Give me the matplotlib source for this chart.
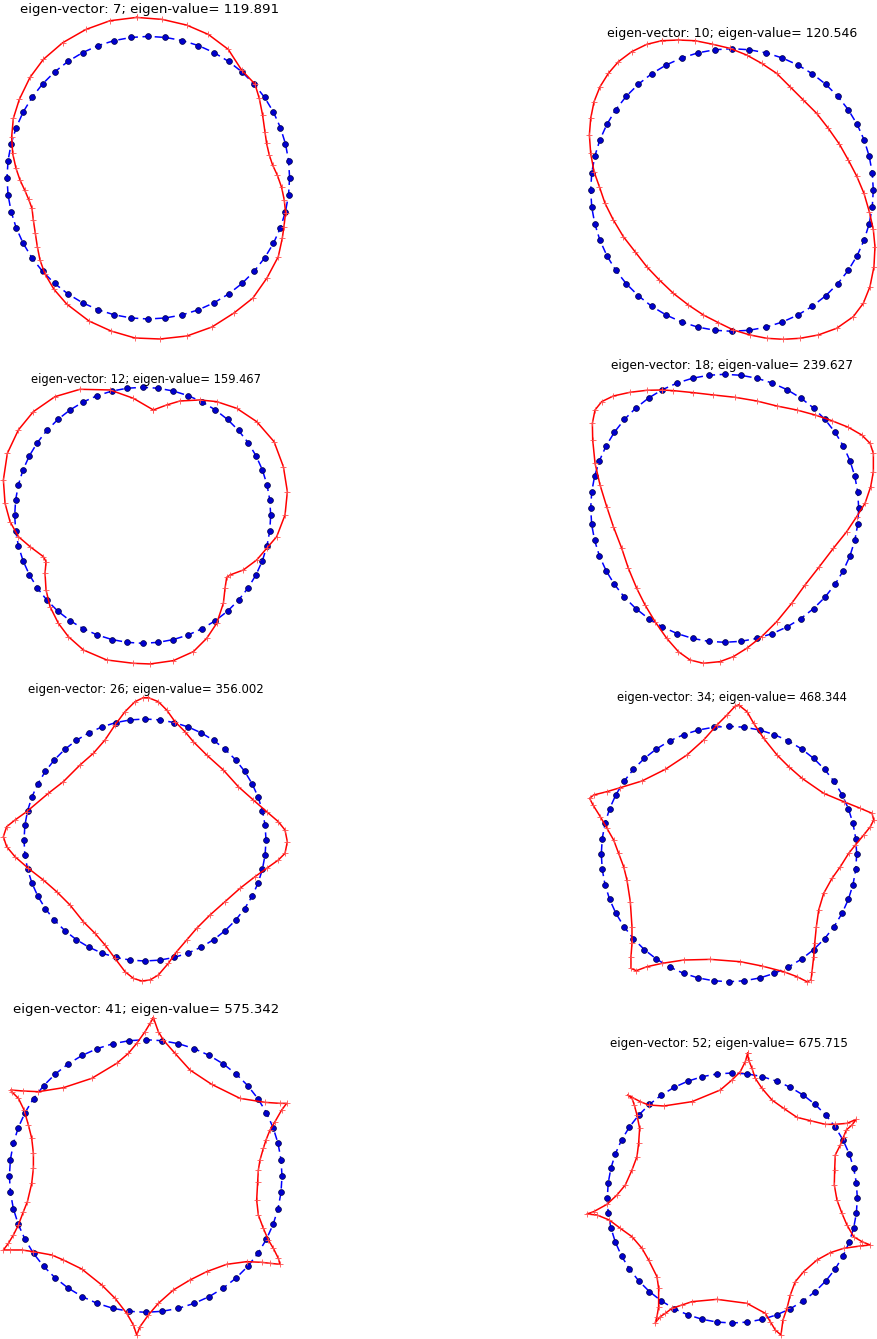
import numpy as np
import matplotlib
matplotlib.use("Agg")
from matplotlib import pyplot as plt

# eigen-vector index and eigen-value of each panel
eig_vectors = [7, 10, 12, 18, 26, 34, 41, 52]
eig_values = [119.891, 120.546, 159.467, 239.627, 356.002, 468.344, 575.342, 675.715]

# number of nodes on the undeformed boundary (blue circle)
n_nodes = 52

# deformed boundaries (red).
# units are tracing pixels; *_ref is (centre x, centre y, radius) of the blue circle in the same units
mode_7_x = [410, 487, 560, 625, 685, 725, 765, 778, 788, 795, 800, 808, 818, 832, 845, 853, 857, 852, 847, 835,
            801, 759, 702, 636, 561, 480, 405, 333, 267, 200, 162, 135, 120, 112, 106, 100, 96, 86, 74, 60,
            48, 38, 35, 40, 58, 90, 130, 188, 258, 330, 410]
mode_7_y = [52, 58, 75, 103, 148, 210, 252, 295, 345, 395, 430, 465, 495, 525, 562, 600, 638, 680, 715, 770,
            834, 894, 939, 981, 1008, 1017, 1014, 993, 963, 912, 868, 822, 780, 740, 700, 660, 625, 598, 570, 540,
            505, 460, 410, 355, 298, 232, 178, 128, 88, 62, 52]
mode_7_ref = (445, 533, 424)

mode_10_x = [275, 325, 375, 425, 480, 530, 575, 620, 660, 700, 740, 775, 808, 835, 860, 882, 898, 910, 915, 912,
             900, 880, 850, 800, 745, 690, 640, 590, 540, 490, 445, 400, 355, 310, 268, 230, 195, 160, 130, 105,
             88, 72, 62, 58, 62, 72, 90, 115, 145, 185, 230, 275]
mode_10_y = [62, 60, 62, 72, 85, 105, 130, 160, 200, 240, 280, 325, 372, 420, 468, 520, 575, 628, 680, 740,
             800, 850, 890, 925, 945, 955, 958, 955, 945, 930, 908, 885, 855, 820, 780, 740, 695, 650, 600, 550,
             500, 455, 400, 345, 295, 245, 200, 160, 125, 95, 73, 62]
mode_10_ref = (486, 510, 424)

mode_12_x = [460, 500, 540, 600, 650, 710, 770, 822, 850, 862, 855, 830, 800, 770, 730, 690, 680, 675, 670, 650,
             620, 580, 520, 450, 400, 320, 250, 205, 175, 150, 138, 135, 138, 130, 90, 55, 30, 15, 10, 22,
             55, 100, 165, 240, 330, 400, 460]
mode_12_y = [210, 195, 183, 180, 185, 205, 245, 305, 380, 455, 525, 590, 625, 660, 690, 705, 712, 745, 790, 850,
             895, 935, 962, 972, 970, 960, 930, 890, 850, 800, 750, 700, 665, 650, 620, 590, 545, 490, 420, 340,
             270, 215, 170, 148, 150, 175, 210]
mode_12_ref = (428, 526, 384)

mode_18_x = [245, 280, 340, 400, 465, 530, 590, 650, 705, 755, 805, 845, 870, 880, 880, 872, 855, 830, 800, 760,
             718, 675, 635, 590, 545, 500, 460, 420, 370, 330, 295, 260, 225, 195, 170, 145, 125, 100, 80, 60,
             45, 38, 37, 45, 65, 100, 150, 200, 245]
mode_18_y = [150, 152, 158, 165, 172, 183, 198, 210, 225, 242, 262, 285, 310, 340, 395, 440, 490, 530, 575, 625,
             680, 735, 790, 845, 890, 925, 950, 965, 970, 960, 935, 895, 845, 795, 745, 685, 625, 560, 500, 435,
             370, 300, 250, 210, 185, 168, 157, 151, 150]
mode_18_ref = (434, 505, 402)

mode_26_x = [445, 475, 500, 525, 555, 580, 620, 670, 715, 760, 800, 835, 855, 862, 855, 835, 800, 765, 720, 675,
             630, 590, 560, 530, 505, 475, 450, 425, 400, 375, 345, 315, 285, 250, 210, 170, 130, 85, 45, 20,
             10, 20, 45, 80, 145, 190, 240, 280, 315, 345, 375, 405, 430, 445]
mode_26_y = [68, 80, 105, 140, 170, 200, 240, 285, 335, 375, 410, 440, 465, 500, 535, 555, 580, 605, 640, 680,
             720, 760, 795, 830, 865, 900, 915, 918, 910, 890, 850, 810, 775, 740, 690, 650, 615, 580, 545, 515,
             485, 455, 435, 410, 355, 320, 270, 235, 195, 150, 110, 80, 68, 68]
mode_26_ref = (435, 495, 363)

mode_34_x = [485, 510, 530, 560, 600, 635, 675, 740, 800, 850, 885, 890, 880, 860, 835, 815, 790, 765, 740, 725,
             718, 713, 710, 705, 702, 690, 660, 620, 555, 490, 400, 320, 255, 210, 178, 162, 162, 165, 165, 160,
             150, 140, 125, 110, 90, 70, 48, 38, 50, 90, 130, 195, 265, 330, 380, 420, 450, 475, 485]
mode_34_y = [75, 95, 130, 175, 225, 260, 295, 340, 365, 385, 400, 420, 440, 465, 495, 520, 560, 595, 640, 690,
             740, 790, 830, 875, 900, 905, 890, 875, 858, 845, 838, 840, 850, 860, 872, 865, 830, 790, 740, 665,
             600, 560, 520, 480, 445, 410, 375, 355, 345, 335, 323, 303, 268, 225, 180, 135, 105, 78, 75]
mode_34_ref = (456, 522, 383)

mode_41_x = [460, 475, 490, 525, 570, 635, 720, 795, 840, 860, 845, 825, 810, 798, 790, 780, 775, 773, 770, 775,
             790, 805, 820, 835, 840, 810, 785, 740, 680, 620, 570, 520, 475, 445, 420, 410, 400, 380, 345, 305,
             245, 190, 155, 100, 65, 30, 10, 25, 40, 55, 70, 82, 95, 100, 100, 95, 85, 72, 55, 35,
             32, 70, 115, 190, 275, 350, 385, 410, 435, 450, 460]
mode_41_y = [68, 110, 135, 175, 225, 268, 310, 322, 325, 325, 345, 380, 405, 435, 460, 495, 525, 560, 615, 660,
             700, 735, 760, 790, 808, 805, 802, 800, 808, 830, 855, 885, 925, 960, 995, 1020, 990, 955, 910, 870,
             822, 795, 780, 770, 765, 765, 765, 745, 720, 690, 650, 620, 565, 520, 475, 430, 390, 345, 310, 290,
             285, 288, 290, 278, 250, 205, 175, 145, 110, 85, 68]
mode_41_ref = (437, 543, 409)

mode_52_x = [512, 515, 525, 535, 555, 585, 620, 660, 700, 745, 775, 810, 838, 825, 808, 800, 790, 775, 773, 772,
             780, 795, 810, 830, 855, 880, 850, 800, 760, 720, 680, 655, 640, 630, 618, 612, 595, 580, 565, 510,
             420, 345, 315, 285, 265, 250, 235, 240, 245, 245, 240, 215, 195, 165, 130, 97, 60, 30, 50, 90,
             120, 145, 165, 180, 185, 188, 180, 172, 165, 152, 190, 215, 260, 345, 430, 465, 490, 505, 512]
mode_52_y = [70, 90, 115, 145, 175, 210, 235, 262, 272, 283, 283, 280, 268, 285, 300, 320, 345, 375, 420, 465,
             510, 550, 585, 620, 635, 645, 648, 655, 668, 690, 725, 755, 795, 835, 870, 915, 900, 875, 850, 820,
             808, 815, 825, 835, 850, 860, 878, 860, 830, 775, 740, 690, 655, 620, 595, 570, 555, 552, 545, 523,
             495, 465, 420, 380, 340, 295, 255, 225, 205, 195, 215, 225, 228, 215, 180, 150, 125, 95, 70]
mode_52_ref = (466, 504, 375)

modes = [
    (mode_7_x, mode_7_y, mode_7_ref),
    (mode_10_x, mode_10_y, mode_10_ref),
    (mode_12_x, mode_12_y, mode_12_ref),
    (mode_18_x, mode_18_y, mode_18_ref),
    (mode_26_x, mode_26_y, mode_26_ref),
    (mode_34_x, mode_34_y, mode_34_ref),
    (mode_41_x, mode_41_y, mode_41_ref),
    (mode_52_x, mode_52_y, mode_52_ref),
]

# layout, in output pixels: circle centre x, centre y, radius
W, H = 877, 1339
panel_circle = [(148.3, 177.7, 141.3), (732.0, 190.0, 141.3),
                (142.7, 515.3, 128.0), (724.7, 508.3, 134.0),
                (145.0, 840.0, 121.0), (729.0, 854.0, 127.7),
                (145.7, 1176.0, 136.3), (732.3, 1198.0, 125.0)]
# title centre x, centre y and width in pixels
panel_title = [(150, 9, 259), (732, 33, 250),
               (146, 380, 230), (732, 365, 242),
               (146, 690, 235), (732, 698, 229),
               (146, 1009, 264), (729, 1044, 237)]

fig = plt.figure(figsize=(W / 100, H / 100), dpi=100)
renderer = fig.canvas.get_renderer()

theta = np.linspace(0, 2 * np.pi, n_nodes + 1)
L = 1.3

for k in range(8):
    cx, cy, r = panel_circle[k]
    side = 2 * L * r
    ax = fig.add_axes([(cx - L * r) / W, 1 - (cy + L * r) / H, side / W, side / H])

    # undeformed boundary
    ax.plot(np.cos(theta[:-1]), np.sin(theta[:-1]), 'o', color='#0000cc', ms=4.2,
            mec='#000044', mew=0.5, clip_on=False, zorder=3)
    ax.plot(np.cos(theta), np.sin(theta), color='b', lw=1.1, dashes=(5, 3), clip_on=False, zorder=2)

    # deformed boundary
    mx, my, (rx, ry, rr) = modes[k]
    xs = (np.array(mx) - rx) / rr
    ys = -(np.array(my) - ry) / rr
    ax.plot(xs, ys, color='r', lw=1.1, marker='+', ms=4, mew=0.6, mec='#ff5050', clip_on=False, zorder=4)

    ax.set_xlim(-L, L)
    ax.set_ylim(-L, L)
    ax.set_aspect('equal')
    ax.axis('off')

    tx, ty, tw = panel_title[k]
    label = "eigen-vector: %d; eigen-value= %.3f" % (eig_vectors[k], eig_values[k])
    t = fig.text(tx / W, 1 - ty / H, label, ha='center', va='center', fontsize=10)
    bb = t.get_window_extent(renderer)
    t.set_fontsize(10 * tw / bb.width)

fig.savefig('out.png', dpi=100)
